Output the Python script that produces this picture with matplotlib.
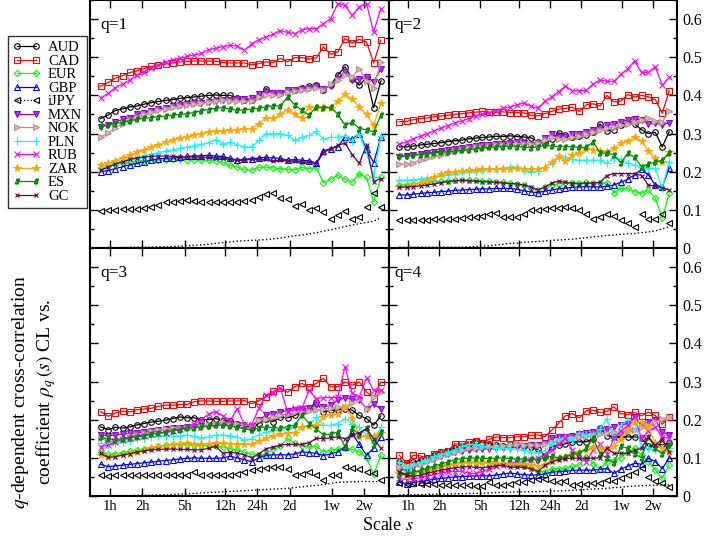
import matplotlib
matplotlib.use('Agg')
import matplotlib.pyplot as plt
from matplotlib.lines import Line2D
from matplotlib.ticker import MultipleLocator, FixedLocator, NullLocator, FuncFormatter

plt.rcParams['font.family'] = ['Liberation Serif', 'DejaVu Serif']
plt.rcParams['mathtext.fontset'] = 'stix'

# scale s in minutes (1w = 5 trading days)
scale = [49, 58, 67, 79, 92, 107, 125, 146, 170, 199, 232, 271, 316, 369, 431, 503, 587, 685,
         800, 934, 1090, 1273, 1486, 1735, 2025, 2364, 2760, 3222, 3761, 4391, 5126, 5984,
         6986, 8155, 9520, 11114, 12974, 15146, 17682, 20642]
tick_pos = [60, 120, 300, 720, 1440, 2880, 7200, 14400]
tick_lab = ['1h', '2h', '5h', '12h', '24h', '2d', '1w', '2w']

''' q = 1 '''
q1_AUD = [0.339,0.349,0.36,0.365,0.37,0.372,0.377,0.381,0.384,0.387,0.389,0.392,0.394,0.396,0.398,0.4,0.401,0.4,0.4,0.393,0.387,0.388,0.398,0.418,0.407,0.405,0.415,0.413,0.42,0.424,0.428,0.414,0.427,0.453,0.475,0.444,0.427,0.447,0.368,0.438]
q1_CAD = [0.424,0.434,0.445,0.452,0.46,0.464,0.47,0.476,0.479,0.482,0.485,0.488,0.489,0.49,0.49,0.49,0.49,0.486,0.485,0.485,0.485,0.48,0.483,0.488,0.486,0.497,0.488,0.499,0.499,0.495,0.498,0.527,0.508,0.514,0.549,0.537,0.547,0.54,0.485,0.545]
q1_EUR = [0.209,0.214,0.219,0.223,0.225,0.227,0.229,0.23,0.23,0.231,0.232,0.232,0.231,0.231,0.23,0.23,0.228,0.225,0.217,0.212,0.206,0.204,0.212,0.212,0.21,0.208,0.206,0.205,0.211,0.208,0.211,0.171,0.18,0.191,0.18,0.172,0.195,0.185,0.121,0.186]
q1_GBP = [0.2,0.203,0.208,0.213,0.218,0.222,0.226,0.23,0.234,0.235,0.236,0.238,0.24,0.241,0.242,0.243,0.241,0.24,0.235,0.23,0.233,0.234,0.236,0.238,0.236,0.235,0.23,0.232,0.23,0.228,0.223,0.255,0.26,0.265,0.291,0.285,0.3,0.26,0.223,0.291]
q1_iJPY = [0.098,0.1,0.1,0.101,0.102,0.103,0.105,0.108,0.113,0.121,0.12,0.122,0.126,0.124,0.121,0.12,0.12,0.12,0.12,0.12,0.122,0.127,0.134,0.141,0.145,0.131,0.128,0.11,0.115,0.1,0.104,0.095,0.075,0.086,0.098,0.075,0.08,0.108,0.143,0.108]
q1_MXN = [0.318,0.322,0.33,0.337,0.342,0.35,0.355,0.36,0.364,0.367,0.372,0.374,0.377,0.379,0.381,0.382,0.385,0.387,0.388,0.39,0.39,0.392,0.404,0.41,0.405,0.406,0.413,0.413,0.418,0.42,0.425,0.418,0.425,0.444,0.462,0.44,0.442,0.448,0.435,0.47]
q1_NOK = [0.291,0.302,0.315,0.326,0.336,0.344,0.35,0.356,0.361,0.365,0.37,0.372,0.375,0.378,0.38,0.383,0.385,0.387,0.386,0.384,0.385,0.386,0.396,0.4,0.4,0.401,0.41,0.412,0.414,0.418,0.42,0.414,0.43,0.44,0.453,0.448,0.47,0.438,0.42,0.488]
q1_PLN = [0.213,0.217,0.222,0.227,0.232,0.237,0.242,0.246,0.25,0.254,0.257,0.261,0.265,0.268,0.272,0.276,0.284,0.273,0.278,0.271,0.265,0.265,0.282,0.3,0.3,0.3,0.295,0.283,0.29,0.295,0.306,0.285,0.29,0.29,0.294,0.28,0.3,0.25,0.187,0.293]
q1_RUB = [0.394,0.405,0.42,0.43,0.44,0.453,0.462,0.472,0.48,0.487,0.494,0.497,0.502,0.506,0.51,0.52,0.523,0.528,0.531,0.529,0.518,0.535,0.546,0.553,0.56,0.57,0.565,0.562,0.572,0.575,0.575,0.588,0.601,0.64,0.636,0.61,0.632,0.64,0.566,0.627]
q1_ZAR = [0.217,0.222,0.229,0.236,0.243,0.252,0.258,0.265,0.271,0.277,0.283,0.288,0.292,0.297,0.3,0.305,0.306,0.307,0.309,0.31,0.312,0.313,0.325,0.342,0.34,0.35,0.363,0.352,0.34,0.37,0.368,0.369,0.367,0.385,0.403,0.39,0.37,0.35,0.322,0.379]
q1_ES = [0.319,0.322,0.326,0.33,0.334,0.337,0.34,0.342,0.344,0.346,0.348,0.35,0.352,0.355,0.36,0.363,0.366,0.368,0.364,0.361,0.362,0.364,0.366,0.37,0.373,0.372,0.396,0.375,0.361,0.348,0.37,0.366,0.37,0.35,0.322,0.33,0.313,0.31,0.305,0.348]
q1_GC = [0.204,0.212,0.22,0.226,0.232,0.236,0.238,0.24,0.241,0.241,0.24,0.239,0.239,0.239,0.238,0.238,0.237,0.235,0.232,0.23,0.23,0.233,0.232,0.232,0.229,0.23,0.228,0.228,0.225,0.225,0.22,0.25,0.26,0.269,0.275,0.245,0.222,0.27,0.174,0.182]
q1_dot = [0.001,0.001,0.001,0.001,0.002,0.002,0.002,0.002,0.003,0.003,0.004,0.005,0.006,0.007,0.008,0.01,0.012,0.014,0.016,0.018,0.019,0.02,0.021,0.022,0.024,0.026,0.029,0.032,0.034,0.037,0.04,0.044,0.048,0.052,0.056,0.06,0.064,0.067,0.07,0.08]

''' q = 2 '''
q2_AUD = [0.265,0.265,0.267,0.27,0.272,0.274,0.276,0.279,0.281,0.283,0.286,0.288,0.29,0.291,0.293,0.292,0.294,0.292,0.291,0.289,0.279,0.274,0.285,0.302,0.296,0.29,0.293,0.296,0.305,0.325,0.307,0.31,0.322,0.33,0.325,0.31,0.3,0.303,0.265,0.305]
q2_CAD = [0.331,0.332,0.336,0.339,0.341,0.344,0.346,0.348,0.35,0.352,0.354,0.356,0.358,0.356,0.356,0.357,0.355,0.355,0.354,0.348,0.346,0.352,0.358,0.364,0.366,0.369,0.358,0.375,0.378,0.372,0.4,0.383,0.385,0.402,0.396,0.4,0.396,0.389,0.353,0.412]
q2_EUR = [0.165,0.166,0.168,0.17,0.172,0.174,0.175,0.176,0.177,0.178,0.178,0.177,0.176,0.175,0.174,0.172,0.17,0.168,0.164,0.158,0.153,0.16,0.165,0.168,0.17,0.171,0.171,0.172,0.171,0.17,0.171,0.145,0.156,0.156,0.148,0.143,0.152,0.13,0.078,0.143]
q2_GBP = [0.139,0.139,0.141,0.143,0.145,0.146,0.148,0.149,0.151,0.152,0.153,0.154,0.155,0.155,0.156,0.156,0.156,0.154,0.15,0.147,0.145,0.149,0.152,0.155,0.157,0.159,0.16,0.161,0.16,0.16,0.162,0.165,0.172,0.18,0.192,0.206,0.191,0.165,0.16,0.209]
q2_iJPY = [0.073,0.073,0.073,0.073,0.074,0.075,0.075,0.076,0.077,0.078,0.08,0.082,0.085,0.09,0.091,0.08,0.08,0.08,0.09,0.1,0.1,0.102,0.104,0.106,0.108,0.106,0.1,0.09,0.075,0.082,0.09,0.085,0.073,0.065,0.056,0.09,0.075,0.076,0.09,0.066]
q2_MXN = [0.239,0.241,0.243,0.246,0.248,0.251,0.254,0.257,0.259,0.262,0.265,0.267,0.269,0.27,0.272,0.273,0.275,0.277,0.274,0.271,0.273,0.288,0.298,0.29,0.292,0.298,0.3,0.305,0.31,0.315,0.322,0.325,0.33,0.335,0.339,0.335,0.326,0.328,0.323,0.328]
q2_NOK = [0.22,0.221,0.224,0.23,0.235,0.24,0.245,0.249,0.253,0.257,0.261,0.264,0.266,0.267,0.269,0.27,0.271,0.272,0.272,0.273,0.275,0.283,0.29,0.286,0.285,0.29,0.293,0.3,0.305,0.31,0.315,0.318,0.322,0.326,0.33,0.335,0.342,0.334,0.33,0.36]
q2_PLN = [0.178,0.178,0.179,0.181,0.184,0.186,0.189,0.192,0.195,0.198,0.2,0.202,0.204,0.206,0.208,0.21,0.213,0.212,0.205,0.198,0.203,0.212,0.223,0.235,0.239,0.232,0.23,0.23,0.231,0.23,0.223,0.235,0.233,0.223,0.218,0.212,0.21,0.209,0.156,0.226]
q2_RUB = [0.272,0.278,0.286,0.293,0.3,0.307,0.314,0.321,0.328,0.333,0.339,0.345,0.35,0.355,0.36,0.366,0.37,0.375,0.38,0.372,0.366,0.384,0.396,0.41,0.424,0.412,0.412,0.413,0.43,0.44,0.437,0.437,0.455,0.47,0.49,0.46,0.46,0.475,0.427,0.447]
q2_ZAR = [0.159,0.161,0.164,0.17,0.175,0.185,0.194,0.198,0.2,0.202,0.204,0.205,0.206,0.206,0.206,0.207,0.208,0.209,0.208,0.207,0.207,0.21,0.225,0.24,0.228,0.243,0.25,0.26,0.258,0.255,0.252,0.262,0.275,0.28,0.291,0.28,0.255,0.235,0.226,0.252]
q2_ES = [0.241,0.242,0.243,0.245,0.247,0.249,0.251,0.252,0.254,0.256,0.258,0.26,0.262,0.264,0.265,0.266,0.267,0.266,0.264,0.263,0.265,0.269,0.267,0.266,0.266,0.265,0.264,0.264,0.278,0.25,0.248,0.245,0.223,0.248,0.238,0.213,0.22,0.225,0.23,0.25]
q2_GC = [0.159,0.16,0.161,0.163,0.165,0.168,0.171,0.174,0.176,0.177,0.176,0.175,0.174,0.173,0.172,0.17,0.169,0.168,0.165,0.16,0.152,0.16,0.17,0.175,0.172,0.17,0.168,0.17,0.17,0.172,0.19,0.195,0.195,0.195,0.195,0.19,0.165,0.162,0.158,0.152]
q2_dot = [0.002,0.002,0.002,0.002,0.002,0.002,0.002,0.002,0.002,0.002,0.003,0.004,0.005,0.006,0.008,0.01,0.012,0.013,0.015,0.016,0.017,0.018,0.02,0.021,0.022,0.023,0.025,0.027,0.029,0.031,0.033,0.034,0.036,0.037,0.038,0.04,0.042,0.045,0.05,0.056]

''' q = 3 '''
q3_AUD = [0.181,0.174,0.18,0.178,0.181,0.186,0.19,0.194,0.196,0.199,0.203,0.207,0.205,0.205,0.2,0.2,0.203,0.197,0.196,0.19,0.186,0.178,0.19,0.203,0.195,0.207,0.205,0.211,0.221,0.229,0.247,0.22,0.225,0.225,0.229,0.225,0.211,0.203,0.186,0.21]
q3_CAD = [0.221,0.209,0.217,0.222,0.22,0.226,0.228,0.23,0.235,0.238,0.238,0.24,0.24,0.247,0.249,0.249,0.248,0.248,0.249,0.249,0.25,0.242,0.25,0.26,0.274,0.282,0.272,0.286,0.295,0.286,0.295,0.308,0.286,0.286,0.299,0.29,0.299,0.273,0.257,0.299]
q3_EUR = [0.116,0.109,0.111,0.114,0.117,0.12,0.124,0.127,0.13,0.133,0.135,0.135,0.135,0.134,0.133,0.132,0.131,0.129,0.124,0.12,0.115,0.11,0.107,0.11,0.122,0.13,0.151,0.138,0.131,0.13,0.13,0.116,0.12,0.123,0.127,0.122,0.116,0.1,0.057,0.107]
q3_GBP = [0.083,0.077,0.079,0.081,0.083,0.085,0.087,0.089,0.091,0.093,0.095,0.097,0.099,0.1,0.099,0.099,0.099,0.1,0.104,0.1,0.095,0.09,0.1,0.107,0.108,0.108,0.108,0.11,0.116,0.114,0.112,0.106,0.11,0.116,0.128,0.164,0.135,0.107,0.125,0.155]
q3_iJPY = [0.055,0.053,0.054,0.054,0.054,0.054,0.055,0.055,0.055,0.056,0.055,0.055,0.056,0.064,0.056,0.055,0.055,0.055,0.056,0.058,0.064,0.068,0.07,0.073,0.076,0.077,0.07,0.055,0.057,0.062,0.055,0.042,0.055,0.056,0.077,0.074,0.07,0.062,0.06,0.042]
q3_MXN = [0.161,0.158,0.16,0.162,0.164,0.166,0.168,0.17,0.172,0.175,0.178,0.179,0.18,0.181,0.183,0.184,0.186,0.187,0.187,0.186,0.182,0.179,0.2,0.212,0.216,0.22,0.224,0.225,0.228,0.23,0.238,0.233,0.238,0.251,0.257,0.253,0.251,0.229,0.24,0.229]
q3_NOK = [0.151,0.143,0.145,0.15,0.156,0.161,0.165,0.17,0.173,0.176,0.178,0.179,0.18,0.181,0.181,0.185,0.19,0.193,0.19,0.189,0.187,0.186,0.2,0.203,0.208,0.211,0.215,0.219,0.22,0.223,0.225,0.228,0.23,0.232,0.234,0.245,0.255,0.229,0.26,0.273]
q3_PLN = [0.138,0.134,0.138,0.141,0.145,0.149,0.153,0.155,0.156,0.157,0.157,0.158,0.16,0.157,0.152,0.155,0.16,0.16,0.158,0.155,0.147,0.15,0.161,0.168,0.172,0.175,0.178,0.181,0.181,0.185,0.208,0.185,0.185,0.19,0.203,0.19,0.18,0.16,0.142,0.181]
q3_RUB = [0.129,0.133,0.142,0.148,0.152,0.155,0.158,0.162,0.164,0.166,0.17,0.175,0.18,0.19,0.2,0.215,0.221,0.21,0.198,0.229,0.186,0.186,0.23,0.264,0.27,0.282,0.221,0.23,0.23,0.277,0.255,0.258,0.258,0.26,0.339,0.27,0.26,0.31,0.277,0.277]
q3_ZAR = [0.107,0.103,0.105,0.107,0.11,0.115,0.12,0.125,0.128,0.131,0.134,0.136,0.138,0.137,0.136,0.137,0.138,0.138,0.137,0.136,0.135,0.136,0.145,0.151,0.158,0.162,0.164,0.166,0.18,0.183,0.186,0.208,0.212,0.216,0.234,0.205,0.155,0.158,0.158,0.164]
q3_ES = [0.155,0.149,0.148,0.15,0.153,0.155,0.158,0.162,0.165,0.168,0.171,0.174,0.177,0.179,0.181,0.183,0.185,0.186,0.183,0.18,0.176,0.173,0.179,0.181,0.179,0.178,0.182,0.186,0.212,0.19,0.176,0.16,0.162,0.168,0.129,0.177,0.16,0.178,0.134,0.168]
q3_GC = [0.112,0.101,0.103,0.107,0.111,0.115,0.118,0.121,0.122,0.123,0.123,0.122,0.122,0.121,0.121,0.125,0.13,0.112,0.115,0.112,0.108,0.1,0.11,0.124,0.128,0.134,0.135,0.135,0.135,0.14,0.151,0.15,0.152,0.155,0.15,0.16,0.165,0.177,0.15,0.125]
q3_dot = [0.001,0.001,0.001,0.001,0.001,0.002,0.002,0.002,0.003,0.003,0.004,0.005,0.006,0.007,0.008,0.009,0.01,0.011,0.012,0.013,0.014,0.015,0.016,0.017,0.018,0.019,0.02,0.022,0.024,0.026,0.028,0.03,0.033,0.036,0.037,0.037,0.038,0.038,0.038,0.038]

''' q = 4 '''
q4_AUD = [0.09,0.086,0.088,0.094,0.1,0.107,0.112,0.118,0.125,0.131,0.136,0.145,0.14,0.137,0.134,0.131,0.135,0.133,0.131,0.128,0.122,0.105,0.128,0.133,0.137,0.142,0.142,0.142,0.15,0.179,0.158,0.155,0.155,0.155,0.155,0.152,0.13,0.133,0.135,0.138]
q4_CAD = [0.107,0.086,0.107,0.105,0.1,0.111,0.115,0.118,0.137,0.135,0.142,0.144,0.14,0.149,0.155,0.153,0.153,0.155,0.155,0.159,0.16,0.155,0.172,0.19,0.21,0.216,0.205,0.223,0.225,0.219,0.222,0.234,0.216,0.213,0.219,0.21,0.22,0.211,0.188,0.208]
q4_EUR = [0.072,0.066,0.064,0.066,0.07,0.074,0.078,0.081,0.085,0.088,0.09,0.09,0.089,0.087,0.086,0.085,0.083,0.081,0.078,0.074,0.066,0.064,0.072,0.072,0.073,0.078,0.081,0.103,0.085,0.072,0.09,0.095,0.1,0.115,0.125,0.108,0.09,0.068,0.046,0.081]
q4_GBP = [0.038,0.031,0.035,0.038,0.041,0.044,0.046,0.048,0.05,0.051,0.052,0.053,0.053,0.053,0.055,0.058,0.06,0.058,0.056,0.055,0.055,0.058,0.062,0.064,0.065,0.067,0.068,0.068,0.068,0.07,0.072,0.059,0.07,0.078,0.086,0.083,0.099,0.09,0.072,0.099]
q4_iJPY = [0.033,0.031,0.033,0.032,0.031,0.031,0.03,0.03,0.029,0.029,0.028,0.027,0.027,0.036,0.03,0.03,0.031,0.036,0.038,0.042,0.044,0.045,0.04,0.038,0.039,0.03,0.031,0.032,0.033,0.035,0.042,0.04,0.046,0.055,0.064,0.074,0.05,0.04,0.035,0.024]
q4_MXN = [0.068,0.07,0.075,0.083,0.092,0.098,0.104,0.11,0.115,0.118,0.12,0.122,0.123,0.124,0.125,0.126,0.127,0.128,0.13,0.133,0.134,0.14,0.152,0.155,0.155,0.158,0.163,0.165,0.168,0.17,0.175,0.182,0.186,0.19,0.208,0.185,0.195,0.2,0.168,0.16]
q4_NOK = [0.077,0.078,0.08,0.085,0.092,0.098,0.105,0.11,0.115,0.12,0.125,0.126,0.128,0.13,0.131,0.132,0.134,0.135,0.134,0.134,0.134,0.136,0.142,0.145,0.148,0.152,0.155,0.158,0.16,0.162,0.165,0.168,0.168,0.17,0.173,0.18,0.185,0.195,0.202,0.208]
q4_PLN = [0.09,0.074,0.08,0.088,0.095,0.105,0.11,0.115,0.12,0.13,0.136,0.135,0.132,0.128,0.126,0.125,0.124,0.122,0.12,0.116,0.113,0.118,0.135,0.15,0.152,0.148,0.165,0.16,0.16,0.175,0.203,0.147,0.185,0.2,0.195,0.128,0.125,0.12,0.118,0.125]
q4_RUB = [0.046,0.043,0.045,0.048,0.052,0.056,0.06,0.063,0.064,0.065,0.06,0.059,0.064,0.07,0.078,0.081,0.085,0.088,0.09,0.094,0.099,0.108,0.12,0.135,0.151,0.12,0.1,0.09,0.12,0.135,0.11,0.151,0.17,0.185,0.208,0.151,0.17,0.18,0.155,0.151]
q4_ZAR = [0.059,0.053,0.057,0.062,0.066,0.07,0.075,0.08,0.085,0.087,0.088,0.089,0.089,0.088,0.086,0.083,0.085,0.085,0.083,0.08,0.078,0.081,0.095,0.1,0.102,0.108,0.116,0.12,0.128,0.125,0.123,0.132,0.15,0.172,0.195,0.195,0.18,0.138,0.125,0.116]
q4_ES = [0.055,0.058,0.062,0.067,0.073,0.078,0.084,0.089,0.095,0.098,0.099,0.1,0.099,0.098,0.099,0.1,0.098,0.097,0.097,0.096,0.094,0.1,0.104,0.1,0.102,0.11,0.112,0.125,0.151,0.11,0.1,0.086,0.13,0.125,0.11,0.1,0.155,0.125,0.11,0.134]
q4_GC = [0.064,0.055,0.051,0.055,0.06,0.064,0.068,0.071,0.074,0.076,0.077,0.075,0.074,0.077,0.079,0.081,0.075,0.076,0.075,0.072,0.064,0.08,0.09,0.095,0.098,0.099,0.099,0.099,0.099,0.1,0.125,0.112,0.112,0.112,0.12,0.125,0.155,0.133,0.15,0.116]
q4_dot = [0.003,0.003,0.003,0.004,0.004,0.005,0.005,0.005,0.006,0.006,0.007,0.007,0.007,0.008,0.009,0.01,0.01,0.011,0.011,0.011,0.012,0.012,0.013,0.013,0.014,0.015,0.016,0.017,0.018,0.019,0.02,0.022,0.023,0.025,0.026,0.027,0.028,0.028,0.029,0.029]

names = ['AUD', 'CAD', 'EUR', 'GBP', 'iJPY', 'MXN', 'NOK', 'PLN', 'RUB', 'ZAR', 'ES', 'GC']
panels = [
    dict(zip(names, [q1_AUD, q1_CAD, q1_EUR, q1_GBP, q1_iJPY, q1_MXN, q1_NOK, q1_PLN, q1_RUB, q1_ZAR, q1_ES, q1_GC])),
    dict(zip(names, [q2_AUD, q2_CAD, q2_EUR, q2_GBP, q2_iJPY, q2_MXN, q2_NOK, q2_PLN, q2_RUB, q2_ZAR, q2_ES, q2_GC])),
    dict(zip(names, [q3_AUD, q3_CAD, q3_EUR, q3_GBP, q3_iJPY, q3_MXN, q3_NOK, q3_PLN, q3_RUB, q3_ZAR, q3_ES, q3_GC])),
    dict(zip(names, [q4_AUD, q4_CAD, q4_EUR, q4_GBP, q4_iJPY, q4_MXN, q4_NOK, q4_PLN, q4_RUB, q4_ZAR, q4_ES, q4_GC])),
]
dots = [q1_dot, q2_dot, q3_dot, q4_dot]

# xmgrace-like colours / symbols
style = {
    'AUD':  dict(color='#000000', marker='o', mfc='none', ms=4.0),
    'CAD':  dict(color='#ff0000', marker='s', mfc='none', ms=3.7),
    'EUR':  dict(color='#00ff00', marker='D', mfc='none', ms=3.2),
    'GBP':  dict(color='#0000ff', marker='^', mfc='none', ms=4.0),
    'iJPY': dict(color='#000000', marker='<', mfc='none', ms=4.0, ls='none'),
    'MXN':  dict(color='#9400d3', marker='v', mfc='#b040e0', ms=4.0),
    'NOK':  dict(color='#bc8f8f', marker='>', mfc='#d8b8b8', ms=4.0),
    'PLN':  dict(color='#00ffff', marker='+', ms=5.5),
    'RUB':  dict(color='#ff00ff', marker='x', ms=4.0),
    'ZAR':  dict(color='#ffa500', marker='*', mfc='#ffa500', ms=5.5),
    'ES':   dict(color='#008b00', marker='$s$', ms=3.6),
    'GC':   dict(color='#670748', marker='x', ms=3.2),
}

fig = plt.figure(figsize=(7.09, 5.37), dpi=100)
W, H = 709.0, 537.0
boxes = [(90, 0, 299), (389, 0, 288), (90, 248, 299), (389, 248, 288)]
qlabels = ['q=1', 'q=2', 'q=3', 'q=4']

axes = []
for k, (x0, y0, w) in enumerate(boxes):
    ax = fig.add_axes([x0 / W, 1 - (y0 + 248) / H, w / W, 248 / H])
    axes.append(ax)
    data = panels[k]
    for n in names:
        st = dict(style[n])
        ls = st.pop('ls', '-')
        ax.plot(scale, data[n], ls=ls, lw=0.9, mew=0.8, **st)
    ax.plot(scale, dots[k], ls=':', color='k', lw=1.0)

    ax.set_xscale('log')
    ax.set_xlim(39, 24600)
    ax.set_ylim(0, 0.65)
    ax.xaxis.set_major_locator(FixedLocator(tick_pos))
    ax.xaxis.set_minor_locator(NullLocator())
    ax.set_xticklabels(tick_lab)
    ax.yaxis.set_major_locator(MultipleLocator(0.1))
    ax.yaxis.set_minor_locator(MultipleLocator(0.05))
    ax.yaxis.set_major_formatter(FuncFormatter(lambda v, p: '0' if abs(v) < 1e-9 else '%.1f' % v))
    ax.tick_params(which='both', direction='in', top=True, right=True, width=1.0, pad=3)
    ax.tick_params(axis='x', labelsize=10.5)
    ax.tick_params(axis='y', labelsize=11.5, pad=4)
    ax.tick_params(which='major', length=6)
    ax.tick_params(which='minor', length=3)
    ax.tick_params(labelleft=False, labelright=(k % 2 == 1), labelbottom=(k >= 2))
    for sp in ax.spines.values():
        sp.set_linewidth(1.5)
    ax.text(0.035 if k % 2 == 0 else 0.02, 0.90, qlabels[k], transform=ax.transAxes,
            fontsize=12.5, ha='left', va='center')

# legend with a dotted iJPY sample
handles = []
for n in names:
    st = dict(style[n])
    st.pop('ls', None)
    lsty = ':' if n == 'iJPY' else '-'
    handles.append(Line2D([], [], ls=lsty, lw=0.9, mew=0.8, **st))
leg = fig.legend(handles, names, loc='upper left', bbox_to_anchor=(8 / W, 1 - 36 / H),
                 numpoints=2, handlelength=1.9, handletextpad=0.5, labelspacing=0.02,
                 borderpad=0.35, fontsize=10.5, frameon=True, fancybox=False, borderaxespad=0)
leg.get_frame().set_edgecolor('k')
leg.get_frame().set_linewidth(1.0)

fig.text(388 / W, 1 - 526 / H, 'Scale $s$', fontsize=13, ha='center', va='center')
fig.text(34 / W, 1 - 392 / H, '$q$-dependent cross-correlation\ncoefficient $\\rho_q\\,(s)$ CL vs.',
         fontsize=14, rotation=90, ha='center', va='center', multialignment='center',
         linespacing=1.2)

fig.savefig('out.png', dpi=100)
